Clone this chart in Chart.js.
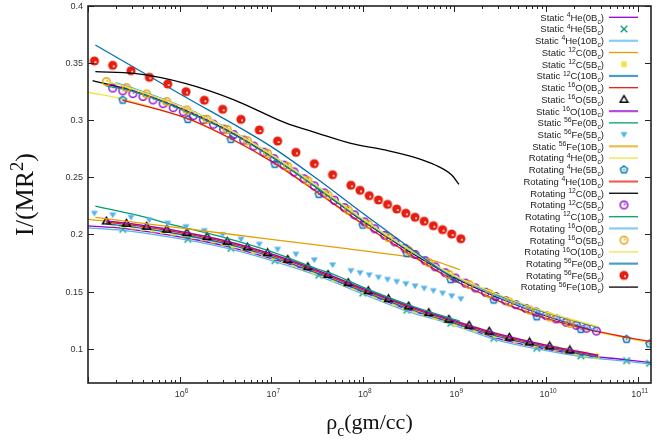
<!DOCTYPE html>
<html>
<head>
<meta charset="utf-8">
<script src="https://cdn.jsdelivr.net/npm/chart.js@4.4.1/dist/chart.umd.min.js"></script>
<style>
  html, body { margin: 0; padding: 0; background: #fff; }
  canvas { display: block; }
</style>
</head>
<body>
<canvas id="moi" width="666" height="442"></canvas>
<script>
// x values are log10 of the central density (gm/cc), y is I/(MR^2)

// grids of the point-style model sets
const lgHe5 = [5.38, 6.09, 6.56, 7.04, 7.52, 8.00, 8.48, 8.96, 9.43, 9.90, 10.38, 10.88, 11.13];
const lgC5 = [5.27, 5.38, 5.49, 5.60, 5.71, 5.82, 5.93, 6.04, 6.15, 6.26, 6.37, 6.48, 6.59, 6.70, 6.81, 6.92,
  7.03, 7.14, 7.25, 7.36, 7.47, 7.58, 7.69, 7.80, 7.91, 8.02, 8.13, 8.24, 8.35, 8.46, 8.57, 8.68, 8.79,
  8.90, 9.01, 9.12, 9.23, 9.34, 9.45, 9.56, 9.67, 9.78, 9.89, 10.00, 10.11, 10.22, 10.33, 10.44, 10.55];
const lgO5 = [5.20, 5.42, 5.64, 5.86, 6.08, 6.30, 6.52, 6.74, 6.96, 7.18, 7.40, 7.62, 7.84, 8.06, 8.28,
  8.50, 8.72, 8.94, 9.16, 9.38, 9.60, 9.82, 10.04, 10.26];
const lgFe5 = [5.07, 5.27, 5.47, 5.67, 5.87, 6.07, 6.27, 6.47, 6.67, 6.87, 7.07, 7.27, 7.47, 7.67, 7.87,
  7.97, 8.07, 8.17, 8.27, 8.37, 8.47, 8.57, 8.67, 8.77, 8.87, 8.97, 9.07];

// grids of the line-style model sets
const lgHeLine = [5.0, 5.38, 6.09, 6.56, 7.04, 7.52, 8.00, 8.48, 8.96, 9.43, 9.90, 10.38, 10.88, 11.14];
const lgHeLine10 = [5.38, 6.09, 6.56, 7.04, 7.52, 8.00, 8.48, 8.96, 9.43, 9.90, 10.38, 10.88, 11.14];
const lgMain = [5.0, 5.5, 6.0, 6.5, 7.0, 7.5, 8.0, 8.5, 9.0, 9.5, 10.0, 10.57];
const lgMain2 = [5.2, 5.5, 6.0, 6.5, 7.0, 7.5, 8.0, 8.5, 9.0, 9.5, 10.0, 10.57];
const lgRotC0 = [5.05, 5.5, 6.0, 6.5, 7.0, 7.5, 8.0, 8.5, 9.0, 9.5, 10.0, 10.57];
const lgRotO0 = [5.3, 5.5, 6.0, 6.5, 7.0, 7.5, 8.0, 8.5, 9.0, 9.5, 10.0, 10.57];
const lgFe0 = [5.08, 5.5, 6.0, 6.5, 7.0, 7.5, 7.7, 8.0, 8.5, 9.06];
const lgFe10 = [5.08, 6.0, 7.0, 7.8, 8.5, 8.75, 9.06];
const lgRotFe0 = [5.08, 6.0, 7.0, 7.5, 8.0, 8.5, 8.75, 9.06];
const lgRotFe10 = [5.08, 5.51, 6.06, 6.60, 7.15, 7.51, 7.87, 8.24, 8.60, 8.79, 8.97, 9.05];

// static stars
const sHe0 = [0.2075, 0.2054, 0.1967, 0.1888, 0.1780, 0.1653, 0.1497, 0.1347, 0.1232, 0.1100, 0.1013, 0.0946, 0.0903, 0.0878];
const sHe5 = [0.2045, 0.1958, 0.1879, 0.1771, 0.1643, 0.1487, 0.1337, 0.1223, 0.1091, 0.1004, 0.0937, 0.0895, 0.0872];
const sHe10 = [0.2058, 0.2036, 0.1950, 0.1871, 0.1763, 0.1636, 0.1480, 0.1330, 0.1216, 0.1085, 0.0998, 0.0932, 0.0890, 0.0866];
const sC0 = [0.2132, 0.2091, 0.2029, 0.1946, 0.1831, 0.1689, 0.1529, 0.1376, 0.1246, 0.1126, 0.1032, 0.0944];
const sC5 = [0.2092, 0.2082, 0.2070, 0.2057, 0.2044, 0.2031, 0.2016, 0.2001, 0.1985, 0.1967, 0.1948, 0.1927,
  0.1904, 0.1879, 0.1854, 0.1829, 0.1802, 0.1773, 0.1742, 0.1710, 0.1676, 0.1642, 0.1607, 0.1571, 0.1536,
  0.1501, 0.1466, 0.1431, 0.1398, 0.1366, 0.1336, 0.1307, 0.1278, 0.1249, 0.1221, 0.1195, 0.1168, 0.1142,
  0.1120, 0.1096, 0.1074, 0.1054, 0.1036, 0.1018, 0.1002, 0.0984, 0.0968, 0.0952, 0.0936];
const sC10 = [0.2093, 0.2064, 0.2002, 0.1919, 0.1804, 0.1662, 0.1502, 0.1350, 0.1221, 0.1102, 0.1010, 0.0925];
const sO0 = [0.2108, 0.2079, 0.2017, 0.1934, 0.1819, 0.1677, 0.1517, 0.1364, 0.1235, 0.1115, 0.1022, 0.0935];
const sO5 = [0.2118, 0.2098, 0.2072, 0.2046, 0.2016, 0.1981, 0.1940, 0.1890, 0.1840, 0.1782, 0.1718, 0.1650,
  0.1578, 0.1508, 0.1438, 0.1374, 0.1316, 0.1258, 0.1205, 0.1153, 0.1100, 0.1059, 0.1024, 0.0989];
const sO10 = [0.2120, 0.2090, 0.2028, 0.1945, 0.1830, 0.1688, 0.1528, 0.1375, 0.1245, 0.1125, 0.1031, 0.0943];
const sFe0 = [0.2249, 0.2175, 0.2070, 0.1970, 0.1850, 0.1700, 0.1645, 0.1540, 0.1385, 0.1240];
const sFe5 = [0.2185, 0.2171, 0.2150, 0.2127, 0.2098, 0.2068, 0.2033, 0.1998, 0.1958, 0.1914, 0.1870, 0.1827,
  0.1777, 0.1733, 0.1683, 0.1664, 0.1645, 0.1625, 0.1606, 0.1587, 0.1568, 0.1549, 0.1529, 0.1508, 0.1486,
  0.1462, 0.1436];
const sFe10 = [0.2150, 0.2058, 0.1958, 0.1878, 0.1805, 0.1775, 0.1690];

// rotating stars
const rHe0 = [0.3245, 0.3185, 0.3012, 0.2836, 0.2618, 0.2356, 0.2087, 0.1840, 0.1610, 0.1432, 0.1286, 0.1178, 0.1092, 0.1050];
const rHe5 = [0.3177, 0.3008, 0.2833, 0.2615, 0.2352, 0.2083, 0.1835, 0.1605, 0.1427, 0.1280, 0.1170, 0.1083, 0.1042];
const rHe10 = [0.3177, 0.3015, 0.2840, 0.2622, 0.2360, 0.2092, 0.1845, 0.1615, 0.1437, 0.1292, 0.1185, 0.1100, 0.1062];
const rC0 = [0.3346, 0.3255, 0.3107, 0.2920, 0.2682, 0.2408, 0.2118, 0.1856, 0.1622, 0.1440, 0.1288, 0.1150];
const rC5 = [0.3282, 0.3258, 0.3233, 0.3208, 0.3178, 0.3145, 0.3110, 0.3074, 0.3040, 0.3005, 0.2965, 0.2922,
  0.2875, 0.2826, 0.2774, 0.2720, 0.2664, 0.2607, 0.2548, 0.2487, 0.2426, 0.2364, 0.2300, 0.2235, 0.2172,
  0.2110, 0.2050, 0.1992, 0.1935, 0.1879, 0.1825, 0.1771, 0.1717, 0.1665, 0.1619, 0.1574, 0.1532, 0.1494,
  0.1457, 0.1420, 0.1386, 0.1353, 0.1321, 0.1290, 0.1261, 0.1232, 0.1205, 0.1180, 0.1155];
const rC10 = [0.3300, 0.3250, 0.3100, 0.2915, 0.2680, 0.2410, 0.2125, 0.1865, 0.1635, 0.1462, 0.1315, 0.1186];
const rO0 = [0.3329, 0.3280, 0.3130, 0.2940, 0.2700, 0.2424, 0.2133, 0.1868, 0.1632, 0.1447, 0.1293, 0.1154];
const rO5 = [0.3338, 0.3285, 0.3230, 0.3163, 0.3090, 0.3008, 0.2920, 0.2820, 0.2710, 0.2594, 0.2471, 0.2346,
  0.2214, 0.2089, 0.1972, 0.1860, 0.1753, 0.1650, 0.1562, 0.1482, 0.1408, 0.1340, 0.1278, 0.1222];
const rO10 = [0.3345, 0.3270, 0.3125, 0.2938, 0.2700, 0.2425, 0.2135, 0.1872, 0.1640, 0.1468, 0.1322, 0.1193];
const rFe0 = [0.3659, 0.3232, 0.2769, 0.2487, 0.2185, 0.1890, 0.1745, 0.1575];
const rFe5 = [0.3519, 0.3481, 0.3434, 0.3376, 0.3317, 0.3250, 0.3175, 0.3096, 0.3008, 0.2915, 0.2818, 0.2719,
  0.2620, 0.2523, 0.2431, 0.2387, 0.2340, 0.2302, 0.2264, 0.2223, 0.2186, 0.2151, 0.2116, 0.2077, 0.2042,
  0.2004, 0.1963];
const rFe10 = [0.3425, 0.3410, 0.3323, 0.3177, 0.2979, 0.2886, 0.2798, 0.2740, 0.2667, 0.2608, 0.2521, 0.2439];

// axis ticks
const yTicks = [0.1, 0.15, 0.2, 0.25, 0.3, 0.35, 0.4];
const yTickLabels = ['0.1', '0.15', '0.2', '0.25', '0.3', '0.35', '0.4'];
const xDecades = [5, 6, 7, 8, 9, 10, 11];
const xTickLabels = ['', '6', '7', '8', '9', '10', '11'];

// small bitmaps used as point symbols
function marker(size, paint) {
  const c = document.createElement('canvas');
  c.width = c.height = size;
  paint(c.getContext('2d'), size / 2);
  return c;
}
const mkCross = marker(10, (g, r) => {
  g.strokeStyle = '#009e73'; g.lineWidth = 1.3; g.beginPath();
  g.moveTo(r - 3.3, r - 3.3); g.lineTo(r + 3.3, r + 3.3);
  g.moveTo(r + 3.3, r - 3.3); g.lineTo(r - 3.3, r + 3.3); g.stroke();
});
const mkSquare = marker(8, (g, r) => { g.fillStyle = '#f0e442'; g.fillRect(r - 2.8, r - 2.8, 5.6, 5.6); });
const mkTriUp = marker(11, (g, r) => {
  g.strokeStyle = '#000'; g.lineWidth = 1.4; g.beginPath();
  g.moveTo(r, r - 3.8); g.lineTo(r + 3.9, r + 2.8); g.lineTo(r - 3.9, r + 2.8); g.closePath(); g.stroke();
});
const mkTriDown = marker(10, (g, r) => {
  g.fillStyle = '#56b4e9'; g.beginPath();
  g.moveTo(r - 3.5, r - 2.6); g.lineTo(r + 3.5, r - 2.6); g.lineTo(r, r + 3.3); g.closePath(); g.fill();
});
const mkPenta = marker(11, (g, r) => {
  g.strokeStyle = '#0072b2'; g.lineWidth = 1.4; g.beginPath();
  for (let k = 0; k < 5; k++) {
    const a = -Math.PI / 2 + k * 2 * Math.PI / 5;
    g.lineTo(r + 3.8 * Math.cos(a), r + 3.8 * Math.sin(a));
  }
  g.closePath(); g.stroke();
  g.fillStyle = '#0072b2'; g.fillRect(r - 0.7, r - 0.7, 1.5, 1.5);
});
const mkRing = color => marker(11, (g, r) => {
  g.strokeStyle = color; g.lineWidth = 1.4; g.beginPath();
  g.arc(r, r, 3.8, 0, 2 * Math.PI); g.stroke();
  g.fillStyle = color; g.fillRect(r, r - 1.6, 1.6, 1.6);
});
const mkRed = marker(12, (g, r) => {
  g.fillStyle = '#e51e10'; g.beginPath(); g.arc(r, r, 4.6, 0, 2 * Math.PI); g.fill();
  g.fillStyle = '#fff'; g.fillRect(r + 0.2, r + 0.2, 1.7, 1.7);
});

// series in plotting order; "wide" marks key samples drawn thicker
const series = [
  ['Static', '4', 'He', '0', '#9400d3', lgHeLine, sHe0],
  ['Static', '4', 'He', '5', '#009e73', lgHe5, sHe5, mkCross],
  ['Static', '4', 'He', '10', '#56b4e9', lgHeLine, sHe10, null, true],
  ['Static', '12', 'C', '0', '#e69f00', lgMain, sC0],
  ['Static', '12', 'C', '5', '#f0e442', lgC5, sC5, mkSquare],
  ['Static', '12', 'C', '10', '#0072b2', lgMain2, sC10, null, true],
  ['Static', '16', 'O', '0', '#e51e10', lgMain2, sO0],
  ['Static', '16', 'O', '5', '#000000', lgO5, sO5, mkTriUp],
  ['Static', '16', 'O', '10', '#9400d3', lgMain2, sO10, null, true],
  ['Static', '56', 'Fe', '0', '#009e73', lgFe0, sFe0],
  ['Static', '56', 'Fe', '5', '#56b4e9', lgFe5, sFe5, mkTriDown],
  ['Static', '56', 'Fe', '10', '#e69f00', lgFe10, sFe10, null, true],
  ['Rotating', '4', 'He', '0', '#f0e442', lgHeLine, rHe0],
  ['Rotating', '4', 'He', '5', '#0072b2', lgHe5, rHe5, mkPenta],
  ['Rotating', '4', 'He', '10', '#e51e10', lgHeLine10, rHe10, null, true],
  ['Rotating', '12', 'C', '0', '#000000', lgRotC0, rC0],
  ['Rotating', '12', 'C', '5', '#9400d3', lgC5, rC5, mkRing('#9400d3')],
  ['Rotating', '12', 'C', '10', '#009e73', lgMain2, rC10],
  ['Rotating', '16', 'O', '0', '#56b4e9', lgRotO0, rO0, null, true],
  ['Rotating', '16', 'O', '5', '#e69f00', lgO5, rO5, mkRing('#e69f00')],
  ['Rotating', '16', 'O', '10', '#f0e442', lgMain2, rO10],
  ['Rotating', '56', 'Fe', '0', '#0072b2', lgRotFe0, rFe0, null, true],
  ['Rotating', '56', 'Fe', '5', '#e51e10', lgFe5, rFe5, mkRed],
  ['Rotating', '56', 'Fe', '10', '#000000', lgRotFe10, rFe10]
].map(([kind, iso, el, b, color, lg, vals, sym, wide]) => ({ kind, iso, el, b, color, lg, vals, sym, wide }));

// text with superscript (1) / subscript (-1) pieces
function drawRich(ctx, parts, x, y, align, size, family) {
  const small = size * 0.72;
  const font = m => `${m ? small : size}px ${family}`;
  const widths = parts.map(([t, m]) => { ctx.font = font(m); return ctx.measureText(t).width; });
  const total = widths.reduce((s, w) => s + w, 0);
  let cx = align === 'right' ? x - total : align === 'center' ? x - total / 2 : x;
  ctx.textAlign = 'left';
  ctx.textBaseline = 'alphabetic';
  parts.forEach(([t, m], i) => {
    ctx.font = font(m);
    const dy = m === 1 ? -size * 0.4 : m === -1 ? size * 0.3 : 0;
    ctx.fillText(t, cx, y + dy);
    cx += widths[i];
  });
}

const SANS = '"Liberation Sans", Arial, Helvetica, sans-serif';
const SERIF = '"Liberation Serif", "Times New Roman", Times, serif';

const frameAndKey = {
  id: 'frameAndKey',
  afterDraw(chart) {
    const { ctx, chartArea: a, scales: { x, y } } = chart;
    ctx.save();
    ctx.strokeStyle = '#222';
    ctx.lineWidth = 1;

    // y ticks, mirrored on the right
    ctx.fillStyle = '#333';
    yTicks.forEach((v, i) => {
      const py = Math.round(y.getPixelForValue(v)) + 0.5;
      ctx.beginPath();
      ctx.moveTo(a.left, py); ctx.lineTo(a.left + 6, py);
      ctx.moveTo(a.right, py); ctx.lineTo(a.right - 6, py);
      ctx.stroke();
      ctx.font = `9px ${SANS}`;
      ctx.textAlign = 'right';
      ctx.textBaseline = 'middle';
      ctx.fillText(yTickLabels[i], a.left - 5, py);
    });

    // x decade and minor ticks, mirrored on top
    xDecades.forEach((d, i) => {
      for (let m = 1; m <= 9; m++) {
        const v = m * Math.pow(10, d);
        if (v < x.min || v > x.max) continue;
        const px = Math.round(x.getPixelForValue(v)) + 0.5;
        const len = m === 1 ? 6 : 3;
        ctx.beginPath();
        ctx.moveTo(px, a.bottom); ctx.lineTo(px, a.bottom - len);
        ctx.moveTo(px, a.top); ctx.lineTo(px, a.top + len);
        ctx.stroke();
      }
      if (xTickLabels[i]) {
        const px = x.getPixelForValue(Math.pow(10, d));
        drawRich(ctx, [['10', 0], [xTickLabels[i], 1]], px + 2, a.bottom + 13.5, 'center', 9, SANS);
      }
    });

    // frame
    ctx.lineWidth = 1.6;
    ctx.strokeRect(a.left, a.top, a.right - a.left, a.bottom - a.top);

    // axis titles
    ctx.fillStyle = '#111';
    drawRich(ctx, [['\u03C1', 0], ['c', -1], ['(gm/cc)', 0]], (a.left + a.right) / 2, 429, 'center', 22, SERIF);
    ctx.save();
    ctx.translate(24, (a.top + a.bottom) / 2);
    ctx.rotate(-Math.PI / 2);
    drawRich(ctx, [['I/(MR', 0], ['2', 1], [')', 0]], 0, 9, 'center', 26, SERIF);
    ctx.restore();

    // key
    ctx.fillStyle = '#222';
    series.forEach((s, i) => {
      const ky = 17.3 + i * 11.73;
      drawRich(ctx, [[s.kind + ' ', 0], [s.iso, 1], [s.el + '(' + s.b + 'B', 0], ['c', -1], [')', 0]],
        604, ky + 3.4, 'right', 9.5, SANS);
      if (s.sym) {
        ctx.drawImage(s.sym, 624 - s.sym.width / 2, ky - s.sym.height / 2);
      } else {
        ctx.save();
        ctx.strokeStyle = s.color;
        ctx.lineWidth = s.wide ? 2.2 : 1.3;
        ctx.globalAlpha = s.wide ? 0.7 : 1;
        ctx.beginPath();
        ctx.moveTo(609, ky); ctx.lineTo(638, ky);
        ctx.stroke();
        ctx.restore();
      }
    });
    ctx.restore();
  }
};

const datasets = series.map((s, i) => ({
  label: `${s.kind} ${s.iso}${s.el}(${s.b}Bc)`,
  data: s.lg.map((lg, k) => ({ x: Math.pow(10, lg), y: s.vals[k] })),
  showLine: !s.sym,
  borderColor: s.color,
  backgroundColor: s.color,
  borderWidth: 1.3,
  pointRadius: s.sym ? 4 : 0,
  pointStyle: s.sym || 'circle',
  cubicInterpolationMode: 'monotone',
  order: -i
}));

new Chart(document.getElementById('moi'), {
  type: 'scatter',
  data: { datasets },
  options: {
    responsive: false,
    animation: false,
    devicePixelRatio: 1,
    events: [],
    layout: { padding: { left: 88, right: 15, top: 6, bottom: 59 } },
    plugins: { legend: { display: false }, tooltip: { enabled: false } },
    scales: {
      x: { type: 'logarithmic', min: 1e5, max: 1.4e11, display: false },
      y: { type: 'linear', min: 0.07, max: 0.4, display: false }
    }
  },
  plugins: [frameAndKey]
});
</script>
</body>
</html>
